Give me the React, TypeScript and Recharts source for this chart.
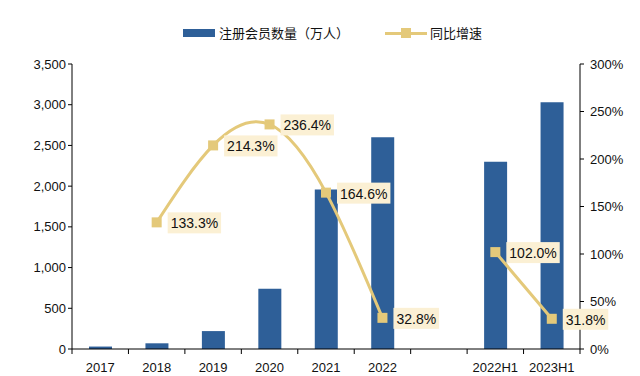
import React from "react"
import { Bar, ComposedChart, Line, XAxis, YAxis, LabelList } from "recharts"

const categories = ["2017", "2018", "2019", "2020", "2021", "2022", "", "2022H1", "2023H1"]
const members = [30, 70, 220, 740, 1958, 2600, null, 2300, 3031]
const growth = [null, 133.3, 214.3, 236.4, 164.6, 32.8, null, 102.0, 31.8]
const leftTicks = [0, 500, 1000, 1500, 2000, 2500, 3000, 3500]
const rightTicks = [0, 50, 100, 150, 200, 250, 300]

const data = categories.map((name, i) => ({ name, members: members[i], growth: growth[i] }))

const BLUE = "#2E5F98"
const GOLD = "#E4C97A"
const LABEL_BG = "#FBF0D4"
const FONT = "'Liberation Sans', Arial, sans-serif"
const BAND = 508 / categories.length

const SquareDot = (props: any) => {
  const { cx, cy, value } = props
  if (value == null || cx == null || cy == null) return <g />
  return <rect x={cx - 5} y={cy - 5} width={10} height={10} fill={GOLD} />
}

const GrowthLabel = (props: any) => {
  const { x, y, value } = props
  if (value == null) return null
  const text = `${Number(value).toFixed(1)}%`
  const w = text.length * 7.9 + 6
  return (
    <g>
      <rect x={x + 11} y={y - 10} width={w} height={21} fill={LABEL_BG} />
      <text x={x + 14} y={y + 1} dominantBaseline="central" fontSize={14} fontFamily={FONT} fill="#111">
        {text}
      </text>
    </g>
  )
}

const CategoryTick = (props: any) => {
  const { x, payload, index } = props
  const axisY = 349
  return (
    <g>
      <line x1={x - BAND / 2} x2={x - BAND / 2} y1={axisY} y2={axisY + 5} stroke="#000" />
      {index === categories.length - 1 && (
        <line x1={x + BAND / 2} x2={x + BAND / 2} y1={axisY} y2={axisY + 5} stroke="#000" />
      )}
      <text x={x} y={axisY + 18} textAnchor="middle" dominantBaseline="central" fontSize={13} fontFamily={FONT} fill="#111">
        {payload.value}
      </text>
    </g>
  )
}

export default function App() {
  return (
    <div style={{ position: "absolute", left: 0, top: 0, width: 640, height: 376, background: "#fff" }}>
      <div
        style={{
          position: "absolute",
          top: 23,
          left: 183,
          display: "flex",
          alignItems: "center",
          fontFamily: "'Noto Sans CJK SC', sans-serif",
          fontSize: 13,
          color: "#111",
          whiteSpace: "nowrap",
        }}
      >
        <span style={{ display: "inline-block", width: 32, height: 8, background: BLUE, marginRight: 4 }} />
        <span>注册会员数量（万人）</span>
        <span style={{ position: "relative", display: "inline-block", width: 42, height: 10, marginLeft: 36, marginRight: 3 }}>
          <span style={{ position: "absolute", left: 0, top: 4, width: 42, height: 3, background: GOLD }} />
          <span style={{ position: "absolute", left: 16, top: 0, width: 10, height: 10, background: GOLD }} />
        </span>
        <span>同比增速</span>
      </div>
      <ComposedChart
        width={640}
        height={376}
        data={data}
        margin={{ top: 64, right: 0, bottom: 0, left: 0 }}
      >
        <XAxis
          dataKey="name"
          height={27}
          axisLine={{ stroke: "#000" }}
          tickLine={false}
          tick={<CategoryTick />}
          interval={0}
        />
        <YAxis
          yAxisId="left"
          width={72}
          domain={[0, 3500]}
          ticks={leftTicks}
          interval={0}
          axisLine={{ stroke: "#000" }}
          tickLine={{ stroke: "#000" }}
          tickSize={4}
          tickFormatter={(v) => v.toLocaleString("en-US")}
          tick={{ fontSize: 13, fontFamily: FONT, fill: "#111" }}
        />
        <YAxis
          yAxisId="right"
          orientation="right"
          width={60}
          domain={[0, 300]}
          ticks={rightTicks}
          interval={0}
          axisLine={{ stroke: "#000" }}
          tickLine={{ stroke: "#000" }}
          tickSize={4}
          tickFormatter={(v) => `${v}%`}
          tick={{ fontSize: 13, fontFamily: FONT, fill: "#111", textAnchor: "start", dx: 4 }}
        />
        <Bar yAxisId="left" dataKey="members" fill={BLUE} barSize={23} isAnimationActive={false} />
        <Line
          yAxisId="right"
          dataKey="growth"
          type="natural"
          stroke={GOLD}
          strokeWidth={3}
          dot={<SquareDot />}
          activeDot={false}
          connectNulls={false}
          isAnimationActive={false}
        >
          <LabelList dataKey="growth" content={<GrowthLabel />} />
        </Line>
      </ComposedChart>
    </div>
  )
}
